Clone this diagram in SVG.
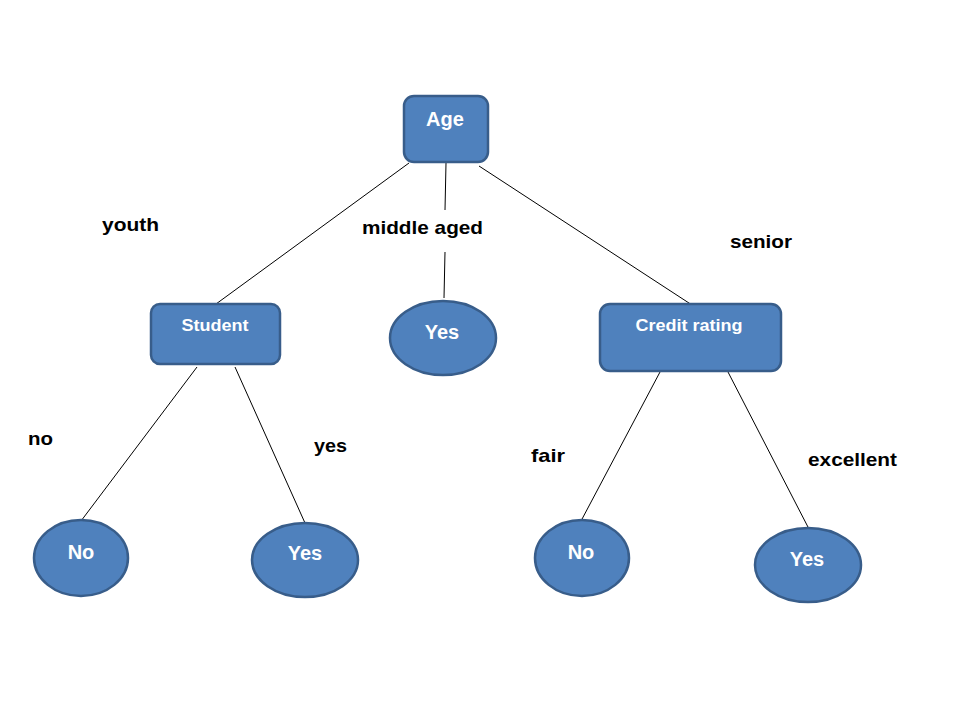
<svg xmlns="http://www.w3.org/2000/svg" width="960" height="720" viewBox="0 0 960 720">
<style>
.n{fill:#4F81BD;stroke:#385D8A;stroke-width:2.5}
.t{font-family:"Liberation Sans",Arial,sans-serif;font-weight:bold;fill:#fff;text-anchor:middle}
.l{font-family:"Liberation Sans",Arial,sans-serif;font-weight:bold;fill:#000;font-size:19px}
.c{stroke:#000;stroke-width:1;fill:none}
</style>
<rect width="960" height="720" fill="#fff"/>
<g id="connectors">
<line class="c" x1="409" y1="163" x2="216" y2="304"/>
<line class="c" x1="446" y1="163" x2="445" y2="210"/>
<line class="c" x1="445" y1="252" x2="444" y2="298"/>
<line class="c" x1="479" y1="166" x2="692" y2="305"/>
<line class="c" x1="197" y1="367" x2="81" y2="521"/>
<line class="c" x1="235" y1="367" x2="305" y2="523"/>
<line class="c" x1="660" y1="372" x2="581" y2="521"/>
<line class="c" x1="728" y1="372" x2="809" y2="529"/>
</g>
<g id="labels">
<text class="l" x="102" y="231" textLength="57" lengthAdjust="spacingAndGlyphs">youth</text>
<text class="l" x="362" y="234" textLength="121" lengthAdjust="spacingAndGlyphs">middle aged</text>
<text class="l" x="730" y="248" textLength="62" lengthAdjust="spacingAndGlyphs">senior</text>
<text class="l" x="28" y="445" textLength="25" lengthAdjust="spacingAndGlyphs">no</text>
<text class="l" x="314" y="452" textLength="33" lengthAdjust="spacingAndGlyphs">yes</text>
<text class="l" x="531" y="462" textLength="34" lengthAdjust="spacingAndGlyphs">fair</text>
<text class="l" x="808" y="466" textLength="89" lengthAdjust="spacingAndGlyphs">excellent</text>
</g>
<g id="age"><rect class="n" x="404" y="96" width="84" height="66" rx="10"/><text class="t" x="445" y="126" font-size="20">Age</text></g>
<g id="student"><rect class="n" x="151" y="304" width="129" height="60" rx="9"/><text class="t" x="215" y="331" font-size="17" textLength="67" lengthAdjust="spacingAndGlyphs">Student</text></g>
<g id="credit"><rect class="n" x="600" y="304" width="181" height="67" rx="10"/><text class="t" x="689" y="331" font-size="17" textLength="107" lengthAdjust="spacingAndGlyphs">Credit rating</text></g>
<g id="yes-mid"><ellipse class="n" cx="443" cy="338" rx="53" ry="37"/><text class="t" x="442" y="339" font-size="20">Yes</text></g>
<g id="no-left"><ellipse class="n" cx="81" cy="558" rx="47" ry="38"/><text class="t" x="81" y="559" font-size="20">No</text></g>
<g id="yes-left"><ellipse class="n" cx="305" cy="560" rx="53" ry="37"/><text class="t" x="305" y="560" font-size="20">Yes</text></g>
<g id="no-right"><ellipse class="n" cx="582" cy="558" rx="47" ry="38"/><text class="t" x="581" y="559" font-size="20">No</text></g>
<g id="yes-right"><ellipse class="n" cx="808" cy="565" rx="53" ry="37"/><text class="t" x="807" y="566" font-size="20">Yes</text></g>
</svg>
